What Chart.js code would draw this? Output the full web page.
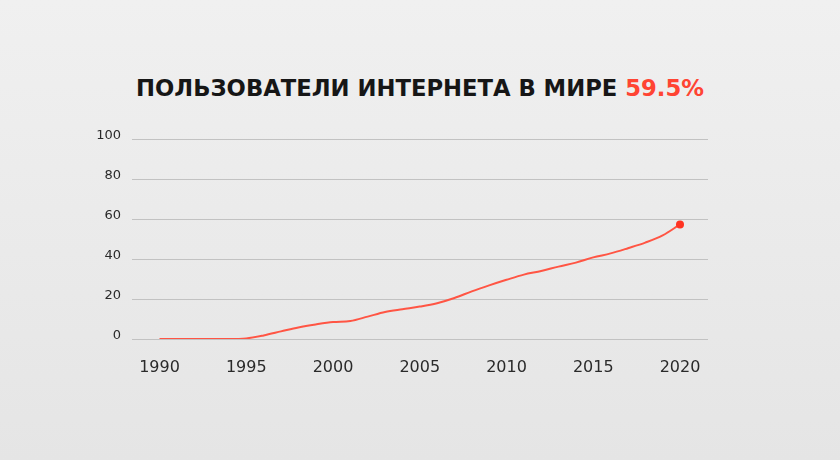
<!DOCTYPE html>
<html lang="ru">
<head>
    <meta charset="UTF-8">
    <title>Пользователи интернета в мире</title>
    <script src="https://cdn.jsdelivr.net/npm/chart.js"></script>
    <style>
        html, body { margin: 0; padding: 0; }
        body {
            width: 840px; height: 460px; overflow: hidden; position: relative;
            background: linear-gradient(#f0f0f0, #e5e5e5);
            font-family: "DejaVu Sans", sans-serif;
        }
        .title {
            position: absolute; left: 0; top: 77px; width: 840px;
            text-align: center; font-weight: bold; font-size: 22.7px; line-height: 23px;
            color: #161616;
        }
        .title span { color: #ff4433; }
        #chart { position: absolute; left: 0; top: 0; }
    </style>
</head>
<body>
    <div class="title">ПОЛЬЗОВАТЕЛИ ИНТЕРНЕТА В МИРЕ <span>59.5%</span></div>
    <canvas id="chart" width="840" height="460"></canvas>
    <script>
    // years and share of internet users (% of world population)
    const years = [1990, 1991, 1992, 1993, 1994, 1995, 1996, 1997, 1998, 1999,
                   2000, 2001, 2002, 2003, 2004, 2005, 2006, 2007, 2008, 2009,
                   2010, 2011, 2012, 2013, 2014, 2015, 2016, 2017, 2018, 2019, 2020];
    const users = [0, 0, 0, 0, 0, 0.3, 1.8, 3.8, 5.8, 7.3,
                   8.5, 9, 11.2, 13.5, 14.9, 16.2, 17.9, 20.5, 23.8, 26.8,
                   29.6, 32.2, 34, 36.2, 38.2, 40.8, 42.8, 45.4, 48.2, 51.8, 57.3];
    const xTicks = [1990, 1995, 2000, 2005, 2010, 2015, 2020];
    const yTicks = [0, 20, 40, 60, 80, 100];

    const red = '#ff5544';
    const last = users.length - 1;

    new Chart(document.getElementById('chart'), {
        type: 'line',
        data: {
            datasets: [{
                data: years.map((y, i) => ({ x: y, y: users[i] })),
                borderColor: red,
                borderWidth: 2,
                cubicInterpolationMode: 'monotone',
                pointRadius: ctx => ctx.dataIndex === last ? 4 : 0,
                pointBackgroundColor: '#ff3322',
                pointBorderWidth: 0,
                fill: false
            }]
        },
        options: {
            responsive: false,
            animation: false,
            layout: { padding: { left: 0, right: 132, top: 139, bottom: 0 } },
            plugins: { legend: { display: false }, tooltip: { enabled: false } },
            scales: {
                x: {
                    type: 'linear',
                    min: 1988.415,
                    max: 2021.614,
                    afterFit: s => { s.height = 121; },
                    afterBuildTicks: s => { s.ticks = xTicks.map(v => ({ value: v })); },
                    grid: { display: false },
                    border: { display: false },
                    ticks: {
                        padding: 11,
                        color: '#2a2a2a',
                        font: { family: 'DejaVu Sans', size: 16 },
                        callback: v => String(v)
                    }
                },
                y: {
                    min: 0,
                    max: 100,
                    afterFit: s => { s.width = 132; },
                    afterBuildTicks: s => { s.ticks = yTicks.map(v => ({ value: v })); },
                    grid: { color: '#c2c2c2', lineWidth: 1, drawTicks: false },
                    border: { display: false },
                    ticks: {
                        padding: 11,
                        labelOffset: -3,
                        color: '#2a2a2a',
                        font: { family: 'DejaVu Sans', size: 13 }
                    }
                }
            }
        }
    });
    </script>
</body>
</html>
